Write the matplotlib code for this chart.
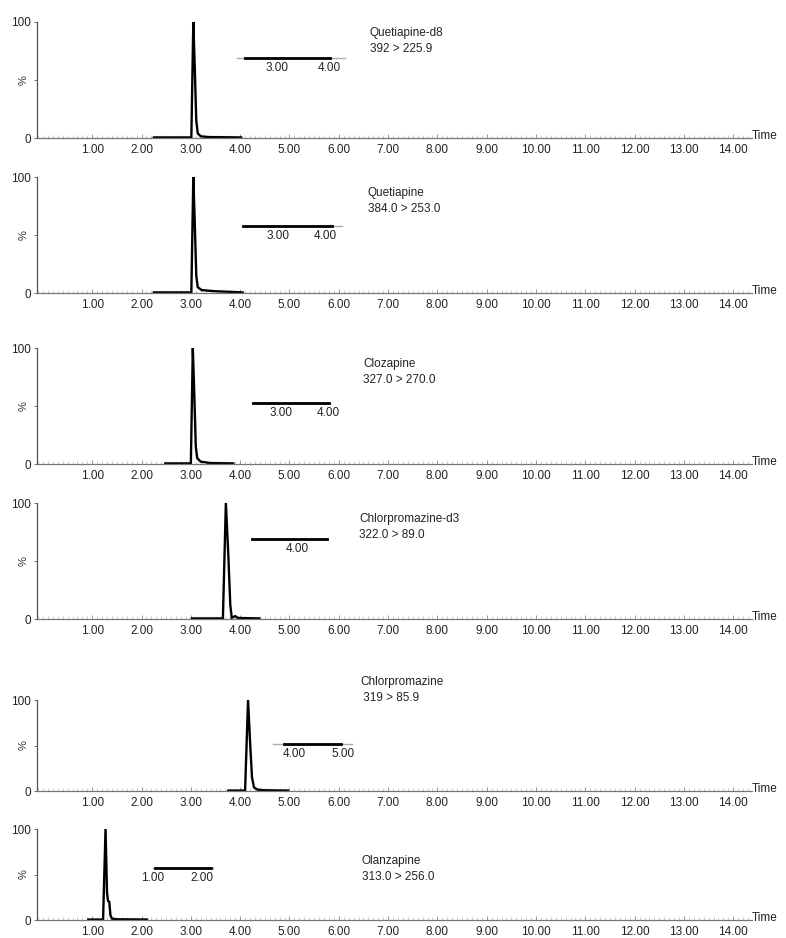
import matplotlib
matplotlib.use("Agg")
import matplotlib.pyplot as plt
from matplotlib.ticker import MultipleLocator, FixedLocator

plt.rcParams['font.family'] = ['Liberation Sans', 'DejaVu Sans']

# ---------------- data ----------------
names = ["Quetiapine-d8", "Quetiapine", "Clozapine", "Chlorpromazine-d3", "Chlorpromazine", "Olanzapine"]
transitions = ["392 > 225.9", "384.0 > 253.0", "327.0 > 270.0", "322.0 > 89.0", " 319 > 85.9", "313.0 > 256.0"]

trace_t = [
    [2.25, 3.01, 3.05, 3.08, 3.11, 3.14, 3.20, 3.35, 4.02],
    [2.25, 3.01, 3.05, 3.08, 3.11, 3.14, 3.22, 3.50, 3.80, 4.05],
    [2.48, 3.00, 3.04, 3.07, 3.10, 3.13, 3.20, 3.40, 3.86],
    [3.02, 3.65, 3.71, 3.76, 3.80, 3.83, 3.90, 3.95, 4.05, 4.39],
    [3.76, 4.10, 4.16, 4.20, 4.24, 4.28, 4.35, 4.50, 4.97],
    [0.92, 1.22, 1.27, 1.30, 1.32, 1.345, 1.37, 1.40, 1.50, 2.11],
]
trace_y = [
    [0.5, 0.5, 100, 60, 15, 4, 1.5, 0.8, 0.5],
    [0.5, 0.5, 100, 60, 15, 5, 2.5, 1.5, 1.0, 0.5],
    [0.5, 0.5, 100, 60, 15, 5, 2.0, 0.8, 0.5],
    [0.5, 0.5, 100, 55, 12, 1, 2.5, 1.0, 0.8, 0.5],
    [0.5, 0.5, 100, 55, 15, 4, 1.5, 0.8, 0.5],
    [0.5, 0.5, 100, 30, 21, 20, 5, 1.5, 0.8, 0.5],
]

# inset (zoomed baseline) traces
inset_t = [[2.38, 4.02], [2.26, 4.15], [2.40, 4.02], [3.04, 4.64], [3.80, 4.95], [1.04, 2.18]]
inset_y = [[0, 0], [0, 0], [0, 0], [0, 0], [0, 0], [0, 0]]
inset_xlim = [(2.23, 4.31), (2.26, 4.36), (2.38, 4.04), (3.04, 4.64), (3.57, 5.18), (1.02, 2.22)]
inset_ticks = [[3.0, 4.0], [3.0, 4.0], [3.0, 4.0], [4.0], [4.0, 5.0], [1.0, 2.0]]

x_ticks = [1, 2, 3, 4, 5, 6, 7, 8, 9, 10, 11, 12, 13, 14]

# ---------------- layout (pixels) ----------------
W, H = 786, 938
panels_px = [(22, 138), (177, 293), (348, 464), (503, 619), (700, 791), (829, 920)]
inset_px = [  # (x_left, x_right, y_line)
    (237, 345, 58), (243, 342, 226), (252, 330, 403),
    (252, 327, 539), (273, 352, 744), (153, 213, 868)]
label_px = [(370, 33), (368, 193), (363, 364), (359, 519), (360, 682), (362, 861)]
ax_left, ax_right = 37, 752

fig = plt.figure(figsize=(W / 100, H / 100), dpi=100)
fs = 8.5
axcol = "#555555"

for i in range(6):
    top, bot = panels_px[i]
    ax = fig.add_axes([ax_left / W, 1 - bot / H, (ax_right - ax_left) / W, (bot - top) / H])
    ax.plot(trace_t[i], trace_y[i], color="black", lw=1.7, clip_on=False, solid_joinstyle="miter")
    ax.set_xlim(-0.12, 14.38)
    ax.set_ylim(0, 100)
    for s in ["top", "right"]:
        ax.spines[s].set_visible(False)
    ax.spines["left"].set_color(axcol)
    ax.spines["bottom"].set_color("#777777")
    ax.spines["left"].set_linewidth(0.9)
    ax.spines["bottom"].set_linewidth(0.9)
    ax.xaxis.set_major_locator(FixedLocator(x_ticks))
    ax.set_xticklabels([f"{v:.2f}" for v in x_ticks])
    ax.xaxis.set_minor_locator(MultipleLocator(0.1))
    ax.tick_params(axis="x", which="major", direction="in", length=3, width=0.6,
                   color="#888888", labelsize=fs, pad=4, labelcolor="#222222")
    ax.tick_params(axis="x", which="minor", direction="in", length=2, width=0.4, color="#aaaaaa")
    ax.set_yticks([0, 50, 100])
    ax.set_yticklabels(["0", "", "100"])
    ax.tick_params(axis="y", direction="out", length=2.5, width=0.6, color=axcol,
                   labelsize=fs, pad=2, labelcolor="#222222")
    ax.text(-0.012, 0.5, "%", transform=ax.transAxes, rotation=90, ha="right", va="center",
            fontsize=fs - 0.5, color="#333333")
    ax.text(1.0, 0.02, "Time", transform=ax.transAxes, ha="left", va="center",
            fontsize=fs, color="#222222")
    lx, ly = label_px[i]
    fig.text(lx / W, 1 - ly / H, names[i], ha="left", va="center", fontsize=fs, color="#222222")
    fig.text(lx / W, 1 - (ly + 16) / H, transitions[i], ha="left", va="center", fontsize=fs, color="#222222")

    # inset
    xl, xr, yl = inset_px[i]
    iax = fig.add_axes([xl / W, 1 - yl / H, (xr - xl) / W, 8 / H])
    iax.patch.set_alpha(0)
    iax.spines["bottom"].set_color("#aaaaaa")
    iax.spines["bottom"].set_linewidth(1.0)
    iax.spines["bottom"].set_zorder(1)
    iax.plot(inset_t[i], inset_y[i], color="black", lw=2.0, clip_on=False, zorder=3)
    iax.set_xlim(*inset_xlim[i])
    iax.set_ylim(0, 1)
    for s in ["top", "right", "left"]:
        iax.spines[s].set_visible(False)
    iax.set_yticks([])
    iax.set_xticks(inset_ticks[i])
    iax.set_xticklabels([f"{v:.2f}" for v in inset_ticks[i]])
    iax.tick_params(axis="x", length=0, pad=3, labelsize=fs, labelcolor="#222222")

fig.savefig("out.png", dpi=100, facecolor="white")
